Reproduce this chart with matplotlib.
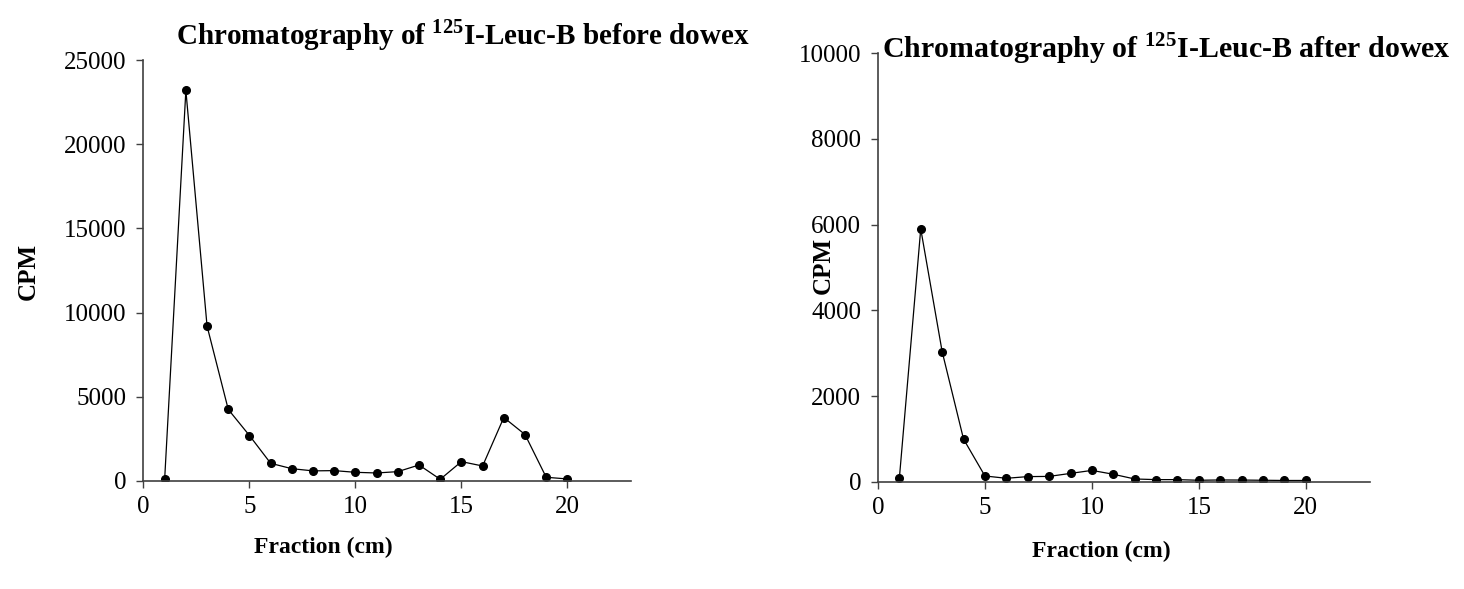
import matplotlib

matplotlib.use("Agg")

import matplotlib.pyplot as plt

plt.rcParams["font.family"] = ["Liberation Serif", "DejaVu Serif"]
plt.rcParams["mathtext.fontset"] = "custom"
plt.rcParams["mathtext.rm"] = "Liberation Serif:bold"
plt.rcParams["mathtext.bf"] = "Liberation Serif:bold"

fractions = list(range(1, 21))
cpm_before = [120, 23200, 9200, 4250, 2700, 1050, 730, 600, 615, 515,
              475, 555, 950, 100, 1150, 890, 3770, 2760, 220, 120]
cpm_after = [86, 5900, 3040, 1000, 140, 86, 125, 130, 200, 270,
             180, 70, 55, 55, 40, 47, 45, 40, 35, 35]

titles = [r"Chromatography of $^{125}$I-Leuc-B before dowex",
          r"Chromatography of $^{125}$I-Leuc-B after dowex"]
y_ticks = [[0, 5000, 10000, 15000, 20000, 25000],
           [0, 2000, 4000, 6000, 8000, 10000]]
x_ticks = [0, 5, 10, 15, 20]

fig = plt.figure(figsize=(14.64, 5.89), dpi=100)
axes = [
    fig.add_axes([0.098, 0.1834, 0.333, 0.7146]),
    fig.add_axes([0.5997, 0.1817, 0.3361, 0.7283]),
]

for ax, values, yt in zip(axes, [cpm_before, cpm_after], y_ticks):
    ax.plot(fractions, values, color="black", lw=0.9, marker="o",
            markersize=5.5, markerfacecolor="black", markeredgecolor="black")
    ax.set_xlim(0, 23)
    ax.set_ylim(yt[0], yt[-1])
    ax.set_xticks(x_ticks)
    ax.set_yticks(yt)
    for side in ["top", "right"]:
        ax.spines[side].set_visible(False)
    for side in ["left", "bottom"]:
        ax.spines[side].set_color("#404040")
        ax.spines[side].set_linewidth(1.2)
    ax.tick_params(direction="out", length=5, width=1, color="#404040",
                   labelsize=18)
    ax.tick_params(axis="y", pad=7)
    ax.tick_params(axis="x", pad=6)

fig.text(0.316, 0.94, titles[0], ha="center", va="center",
         fontsize=21, fontweight="bold")
fig.text(0.797, 0.917, titles[1], ha="center", va="center",
         fontsize=21.5, fontweight="bold")

fig.text(0.221, 0.07, "Fraction (cm)", ha="center", va="center",
         fontsize=17, fontweight="bold")
fig.text(0.752, 0.064, "Fraction (cm)", ha="center", va="center",
         fontsize=17, fontweight="bold")

fig.text(0.019, 0.54, "CPM", ha="center", va="center", rotation=90,
         fontsize=18, fontweight="bold")
fig.text(0.562, 0.55, "CPM", ha="center", va="center", rotation=90,
         fontsize=18, fontweight="bold")

fig.savefig("out.png", dpi=100)
